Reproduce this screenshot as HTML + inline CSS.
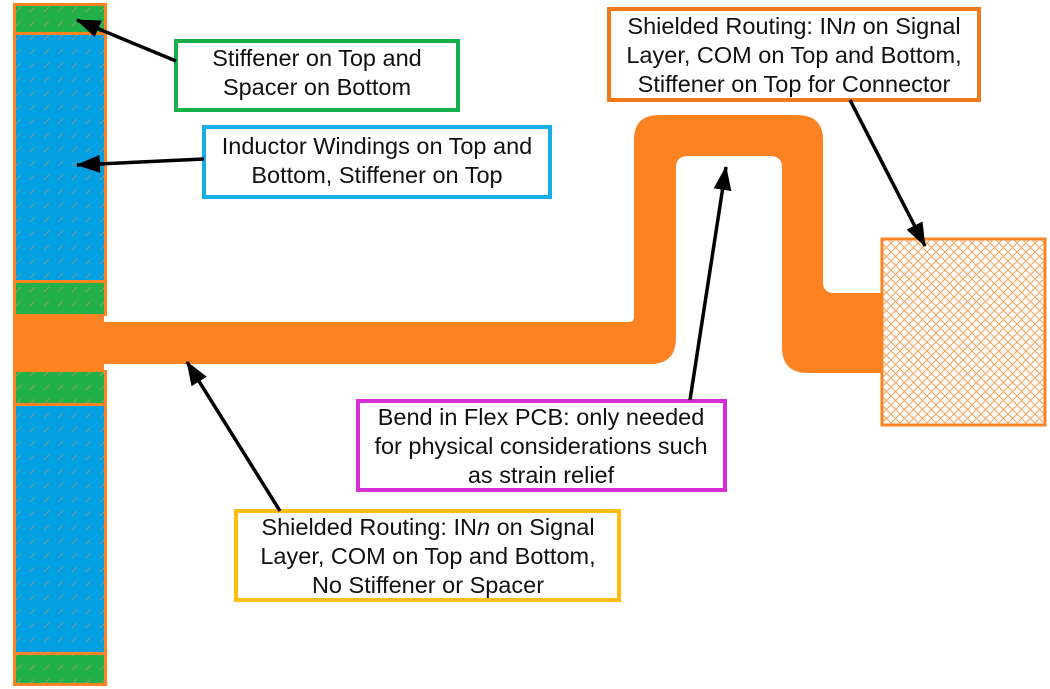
<!DOCTYPE html>
<html><head><meta charset="utf-8"><style>
html,body{margin:0;padding:0;background:#fff;}
svg{display:block;}
text{font-family:"Liberation Sans",Arial,sans-serif;font-size:23.5px;fill:#111;}
</style></head><body>
<svg width="1050" height="689" viewBox="0 0 1050 689" xmlns="http://www.w3.org/2000/svg">
<defs>
<pattern id="hatch" width="9" height="9" patternUnits="userSpaceOnUse">
<path d="M0,0 L9,9 M9,0 L0,9" stroke="#f7a25a" stroke-width="1"/>
</pattern>
<pattern id="dash" width="14" height="14" patternUnits="userSpaceOnUse">
<path d="M2,12 L7,7" stroke="#d99060" stroke-width="1" opacity="0.6"/>
</pattern>
<marker id="arr" markerWidth="24" markerHeight="18" refX="23" refY="9" orient="auto" markerUnits="userSpaceOnUse" viewBox="0 0 24 18">
<path d="M0,0 L24,9 L0,18 z" fill="#000"/>
</marker>
</defs>
<!-- left column -->
<rect x="13" y="3" width="94" height="683" fill="#fd8322"/>
<rect x="16" y="6" width="88" height="26" fill="#22b04a"/>
<rect x="16" y="35" width="88" height="245" fill="#00a0e3"/>
<rect x="16" y="283" width="88" height="31" fill="#22b04a"/>
<rect x="16" y="372" width="88" height="31" fill="#22b04a"/>
<rect x="16" y="406" width="88" height="246" fill="#00a0e3"/>
<rect x="16" y="655" width="88" height="28" fill="#22b04a"/>
<rect x="16" y="6" width="88" height="677" fill="url(#dash)"/>
<rect x="104" y="316" width="6" height="54" fill="#fff"/>
<rect x="13" y="316" width="63" height="54" fill="#fd8322"/>
<!-- flex trace -->
<path d="M76,322 L629,322 Q634,322 634,317 L634,140 Q634,115 659,115 L797,115 Q823,115 823,140 L823,282 Q823,293 834,293 L884,293 L884,373 L808,373 Q782,373 782,347 L782,168 Q782,156 770,156 L688,156 Q676,156 676,168 L676,338 Q676,364 650,364 L76,364 Z" fill="#fd8322"/>
<!-- connector -->
<rect x="882" y="239" width="163" height="186" fill="#fff" stroke="#fd8322" stroke-width="3"/>
<rect x="883" y="240" width="161" height="184" fill="url(#hatch)"/>
<!-- boxes -->
<rect x="176" y="41" width="282" height="69" fill="#fff" stroke="#16b04a" stroke-width="4"/>
<text x="317" y="66" text-anchor="middle">Stiffener on Top and</text>
<text x="317" y="95" text-anchor="middle">Spacer on Bottom</text>
<rect x="204" y="127" width="346" height="70" fill="#fff" stroke="#17aee8" stroke-width="4"/>
<text x="377" y="154" text-anchor="middle">Inductor Windings on Top and</text>
<text x="377" y="183" text-anchor="middle">Bottom, Stiffener on Top</text>
<rect x="609" y="9" width="370" height="91" fill="#fff" stroke="#f07a1a" stroke-width="4"/>
<text x="794" y="34" text-anchor="middle">Shielded Routing: IN<tspan font-style="italic">n</tspan> on Signal</text>
<text x="794" y="63" text-anchor="middle">Layer, COM on Top and Bottom,</text>
<text x="794" y="92" text-anchor="middle">Stiffener on Top for Connector</text>
<rect x="358" y="401" width="367" height="89" fill="#fff" stroke="#d42fd2" stroke-width="4"/>
<text x="541" y="425" text-anchor="middle">Bend in Flex PCB: only needed</text>
<text x="541" y="454" text-anchor="middle">for physical considerations such</text>
<text x="541" y="483" text-anchor="middle">as strain relief</text>
<rect x="236" y="511" width="383" height="89" fill="#fff" stroke="#fdbd10" stroke-width="4"/>
<text x="428" y="535" text-anchor="middle">Shielded Routing: IN<tspan font-style="italic">n</tspan> on Signal</text>
<text x="428" y="564" text-anchor="middle">Layer, COM on Top and Bottom,</text>
<text x="428" y="593" text-anchor="middle">No Stiffener or Spacer</text>
<!-- arrows -->
<g stroke="#000" stroke-width="3.5" fill="none" marker-end="url(#arr)">
<line x1="176" y1="61" x2="77" y2="20"/>
<line x1="204" y1="159" x2="77" y2="165"/>
<line x1="850" y1="100" x2="925" y2="246"/>
<line x1="690" y1="400" x2="726" y2="167"/>
<line x1="280" y1="511" x2="187" y2="362"/>
</g>
</svg>
</body></html>
